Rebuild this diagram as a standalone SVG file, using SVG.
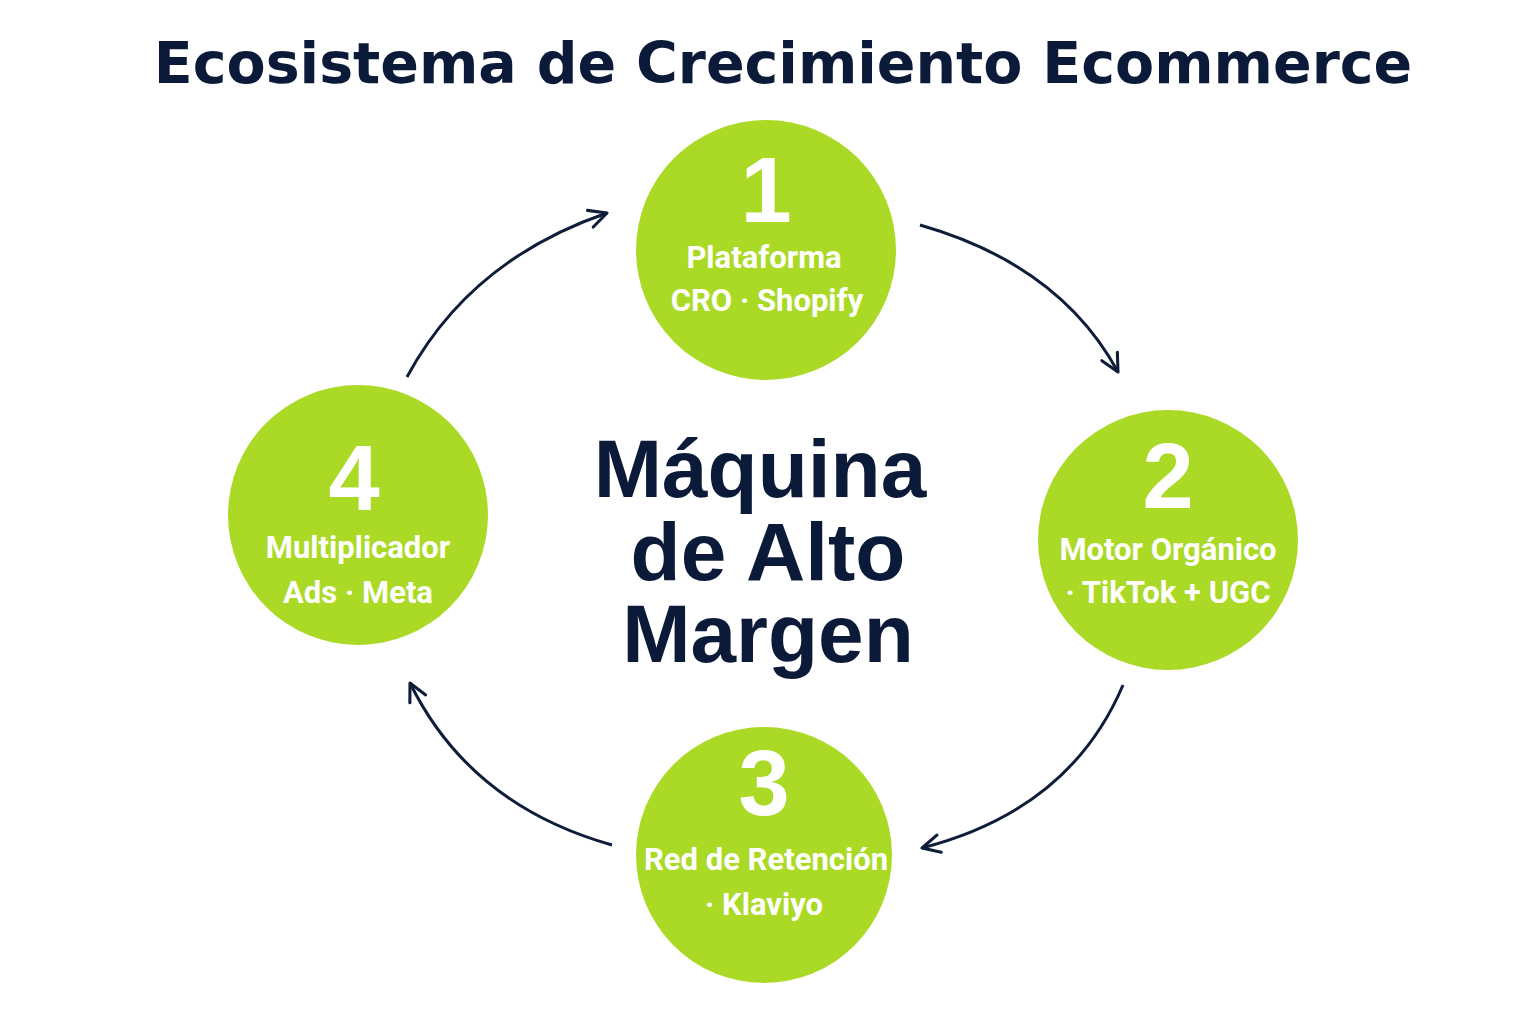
<svg xmlns="http://www.w3.org/2000/svg" width="1536" height="1024" viewBox="0 0 1536 1024">
<style>
.c{fill:#abda26}
.n{font-family:"Liberation Sans",Arial,sans-serif;font-weight:bold;fill:#fff;text-anchor:middle;font-size:92px}
.l{font-family:Roboto,"Liberation Sans",sans-serif;font-weight:bold;fill:#fff;text-anchor:middle;font-size:31px}
.t{font-family:"Liberation Sans",Arial,sans-serif;font-weight:bold;fill:#0c1a3a;text-anchor:middle}
.a{fill:none;stroke:#0f1d3a;stroke-width:3;marker-end:url(#m)}
</style>
<defs><marker id="m" viewBox="0 0 10 10" refX="9" refY="5" markerWidth="22" markerHeight="22" orient="auto" markerUnits="userSpaceOnUse"><path d="M1,1 L9,5 L1,9" fill="none" stroke="#0f1d3a" stroke-width="1.4" stroke-linecap="round" stroke-linejoin="round"/></marker></defs>
<rect width="1536" height="1024" fill="#fff"/>
<text x="783" y="83" font-size="57" font-family="'DejaVu Sans',sans-serif" font-weight="bold" fill="#0c1a3a" text-anchor="middle">Ecosistema de Crecimiento Ecommerce</text>
<g id="center"><text class="t" font-size="82" x="760" y="497">Máquina</text><text class="t" font-size="82" x="768" y="580">de Alto</text><text class="t" font-size="82" x="768" y="662">Margen</text></g>
<g id="connectors">
<path class="a" d="M920,225 Q1060,265 1118,372"/>
<path class="a" d="M1123,685 Q1070,810 922,848"/>
<path class="a" d="M612,845 Q470,805 410,683"/>
<path class="a" d="M407,377 Q470,260 607,213"/>
</g>
<g id="node1"><circle class="c" cx="766" cy="250" r="130"/><text class="n" x="766" y="222">1</text><text class="l" x="764" y="268">Plataforma</text><text class="l" x="767" y="311">CRO · Shopify</text></g>
<g id="node2"><circle class="c" cx="1168" cy="540" r="130"/><text class="n" x="1168" y="508">2</text><text class="l" x="1168" y="560">Motor Orgánico</text><text class="l" x="1168" y="603">· TikTok + UGC</text></g>
<g id="node3"><circle class="c" cx="764" cy="855" r="128"/><text class="n" x="764" y="815">3</text><text class="l" x="766" y="870">Red de Retención</text><text class="l" x="764" y="915">· Klaviyo</text></g>
<g id="node4"><circle class="c" cx="358" cy="515" r="130"/><text class="n" x="354" y="510">4</text><text class="l" x="358" y="558">Multiplicador</text><text class="l" x="358" y="603">Ads · Meta</text></g>
</svg>
